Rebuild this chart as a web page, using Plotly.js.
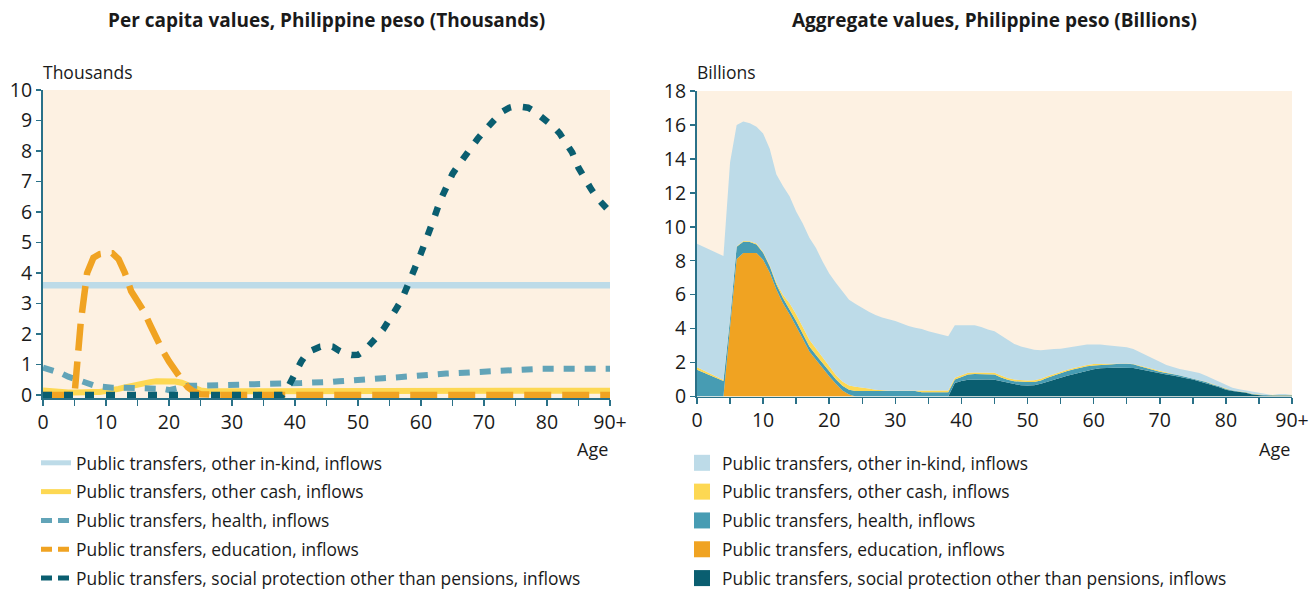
<!DOCTYPE html>
<html>
<head>
<meta charset="utf-8">
<script src="https://cdn.plot.ly/plotly-3.0.1.min.js"></script>
<style>
  html, body { margin: 0; padding: 0; background: #ffffff; }
  #chart { width: 1312px; height: 592px; }
</style>
</head>
<body>
<div id="chart"></div>
<script>
// ---------- Data (ages 0 .. 90+) ----------
const ages = [0,1,2,3,4,5,6,7,8,9,10,11,12,13,14,15,16,17,18,19,20,21,22,23,24,25,26,27,28,29,30,31,32,33,34,35,36,37,38,39,40,41,42,43,44,45,46,47,48,49,50,51,52,53,54,55,56,57,58,59,60,61,62,63,64,65,66,67,68,69,70,71,72,73,74,75,76,77,78,79,80,81,82,83,84,85,86,87,88,89,90];
const tickVals = [0,5,10,15,20,25,30,35,40,45,50,55,60,65,70,75,80,85,90];
const tickLabels = ['0','','10','','20','','30','','40','','50','','60','','70','','80','','90+'];

const seriesNames = [
  'Public transfers, other in-kind, inflows',
  'Public transfers, other cash, inflows',
  'Public transfers, health, inflows',
  'Public transfers, education, inflows',
  'Public transfers, social protection other than pensions, inflows'
];

// Per capita values (thousands of pesos)
const pcInKind = [3.6,3.6,3.6,3.6,3.6,3.6,3.6,3.6,3.6,3.6,3.6,3.6,3.6,3.6,3.6,3.6,3.6,3.6,3.6,3.6,3.6,3.6,3.6,3.6,3.6,3.6,3.6,3.6,3.6,3.6,3.6,3.6,3.6,3.6,3.6,3.6,3.6,3.6,3.6,3.6,3.6,3.6,3.6,3.6,3.6,3.6,3.6,3.6,3.6,3.6,3.6,3.6,3.6,3.6,3.6,3.6,3.6,3.6,3.6,3.6,3.6,3.6,3.6,3.6,3.6,3.6,3.6,3.6,3.6,3.6,3.6,3.6,3.6,3.6,3.6,3.6,3.6,3.6,3.6,3.6,3.6,3.6,3.6,3.6,3.6,3.6,3.6,3.6,3.6,3.6,3.6];
const pcCash = [0.15,0.12,0.1,0.08,0.08,0.08,0.1,0.1,0.1,0.1,0.12,0.15,0.2,0.25,0.3,0.35,0.4,0.42,0.45,0.45,0.45,0.44,0.4,0.3,0.2,0.15,0.12,0.12,0.12,0.12,0.12,0.12,0.12,0.12,0.12,0.12,0.12,0.12,0.12,0.12,0.13,0.13,0.13,0.13,0.13,0.13,0.13,0.13,0.13,0.13,0.13,0.13,0.13,0.13,0.13,0.13,0.14,0.14,0.14,0.14,0.14,0.14,0.14,0.14,0.14,0.14,0.14,0.14,0.14,0.14,0.14,0.14,0.14,0.14,0.14,0.14,0.14,0.14,0.14,0.14,0.14,0.14,0.14,0.14,0.14,0.14,0.14,0.14,0.14,0.14,0.14];
const pcHealth = [0.9,0.85,0.78,0.7,0.6,0.52,0.45,0.38,0.32,0.28,0.25,0.24,0.24,0.24,0.23,0.23,0.23,0.23,0.22,0.2,0.16,0.22,0.28,0.3,0.3,0.3,0.3,0.32,0.33,0.33,0.33,0.34,0.34,0.35,0.35,0.36,0.36,0.37,0.37,0.38,0.38,0.39,0.4,0.4,0.41,0.41,0.43,0.45,0.47,0.48,0.5,0.51,0.52,0.53,0.55,0.56,0.58,0.6,0.62,0.63,0.64,0.65,0.66,0.68,0.7,0.71,0.72,0.74,0.76,0.78,0.8,0.82,0.83,0.84,0.85,0.86,0.86,0.86,0.86,0.86,0.86,0.86,0.86,0.86,0.86,0.86,0.86,0.86,0.86,0.86,0.86];
const pcEducation = [0,0,0,0,0,0,2.4,4.0,4.5,4.62,4.65,4.65,4.45,4.0,3.4,3.1,2.75,2.3,1.85,1.45,1.1,0.75,0.5,0.25,0.1,0.02,0,0,0,0,0,0,0,0,0,0,0,0,0,0,0,0,0,0,0,0,0,0,0,0,0,0,0,0,0,0,0,0,0,0,0,0,0,0,0,0,0,0,0,0,0,0,0,0,0,0,0,0,0,0,0,0,0,0,0,0,0,0,0,0,0];
const pcSocial = [0,0,0,0,0,0,0,0,0,0,0,0,0,0,0,0,0,0,0,0,0,0,0,0,0,0,0,0,0,0,0,0,0,0,0,0,0,0,0,0.3,0.75,1.1,1.4,1.52,1.58,1.6,1.58,1.45,1.35,1.31,1.32,1.45,1.65,1.9,2.15,2.45,2.8,3.15,3.6,4.15,4.65,5.15,5.75,6.35,6.85,7.25,7.55,7.85,8.1,8.4,8.65,8.9,9.1,9.3,9.42,9.47,9.47,9.42,9.3,9.15,8.98,8.8,8.58,8.3,7.95,7.45,7.05,6.75,6.45,6.2,6.0];

// Aggregate values (billions of pesos)
const agInKind = [7.27,7.28,7.29,7.31,7.31,9.17,7.15,7.04,6.95,6.89,6.98,6.86,6.38,6.4,6.3,6.05,6.1,6.0,5.92,5.62,5.49,5.43,5.32,5.05,4.88,4.66,4.53,4.4,4.29,4.21,4.11,3.96,3.81,3.71,3.65,3.5,3.4,3.3,3.2,3.1,2.93,2.8,2.78,2.68,2.53,2.45,2.36,2.26,2.1,1.99,1.9,1.79,1.67,1.58,1.46,1.37,1.3,1.27,1.24,1.21,1.16,1.15,1.08,1.03,0.98,0.95,0.88,0.79,0.65,0.6,0.54,0.43,0.38,0.35,0.38,0.39,0.4,0.35,0.32,0.27,0.23,0.16,0.11,0.09,0.12,0.1,0.03,0.0,0.06,0.06,0.0];
const agCash = [0.16,0.13,0.1,0.07,0.05,0.03,0.03,0.04,0.05,0.05,0.05,0.06,0.1,0.2,0.35,0.4,0.4,0.4,0.38,0.35,0.3,0.25,0.25,0.25,0.25,0.22,0.15,0.08,0.04,0.02,0.02,0.02,0.02,0.02,0.08,0.1,0.1,0.1,0.1,0.1,0.1,0.1,0.1,0.1,0.1,0.1,0.12,0.11,0.1,0.1,0.1,0.1,0.1,0.1,0.1,0.09,0.08,0.08,0.08,0.08,0.08,0.06,0.03,0.02,0.02,0.02,0.02,0.05,0.08,0.07,0.05,0.04,0.02,0.02,0.02,0.02,0.02,0.02,0.02,0.01,0.01,0.01,0.01,0.01,0.01,0.01,0.01,0.01,0.01,0.01,0.01];
const agHealth = [1.57,1.41,1.25,1.08,0.92,0.5,0.72,0.66,0.64,0.5,0.42,0.38,0.32,0.3,0.3,0.3,0.3,0.3,0.3,0.28,0.26,0.27,0.28,0.28,0.32,0.32,0.32,0.32,0.32,0.32,0.32,0.32,0.32,0.32,0.25,0.25,0.25,0.25,0.25,0.2,0.25,0.32,0.32,0.32,0.32,0.32,0.22,0.2,0.2,0.2,0.2,0.2,0.2,0.22,0.24,0.26,0.28,0.28,0.28,0.26,0.23,0.2,0.22,0.23,0.23,0.23,0.22,0.18,0.15,0.12,0.1,0.08,0.08,0.07,0.07,0.06,0.06,0.05,0.05,0.05,0.04,0.03,0.03,0.03,0.03,0.03,0.03,0.03,0.03,0.03,0.03];
const agEducation = [0,0,0,0,0,4.1,8.1,8.46,8.46,8.46,8.05,7.3,6.3,5.5,4.85,4.15,3.4,2.65,2.15,1.7,1.2,0.75,0.35,0.12,0,0,0,0,0,0,0,0,0,0,0,0,0,0,0,0,0,0,0,0,0,0,0,0,0,0,0,0,0,0,0,0,0,0,0,0,0,0,0,0,0,0,0,0,0,0,0,0,0,0,0,0,0,0,0,0,0,0,0,0,0,0,0,0,0,0,0];
const agSocial = [0,0,0,0,0,0,0,0,0,0,0,0,0,0,0,0,0,0,0,0,0,0,0,0,0,0,0,0,0,0,0,0,0,0,0,0,0,0,0,0.8,0.92,0.98,1.0,1.0,1.0,0.98,0.9,0.78,0.7,0.66,0.65,0.66,0.75,0.88,1.0,1.1,1.22,1.32,1.42,1.52,1.6,1.66,1.69,1.7,1.7,1.7,1.68,1.6,1.52,1.43,1.36,1.3,1.24,1.18,1.08,1.0,0.9,0.8,0.66,0.55,0.4,0.32,0.27,0.22,0.12,0.08,0.05,0.05,0.05,0.05,0.05];

// ---------- Styles ----------
const C = {
  inkind: '#bddbe8',
  cash: '#fdd853',
  healthLine: '#62a4b8',
  healthArea: '#479cb3',
  edu: '#f0a322',
  social: '#0a5e70',
  bg: '#fdf1e2',
  axis: '#2a7188',
  text: '#1a1a1a'
};
const FONT = '"Open Sans", "Noto Sans", sans-serif';

const lineSpecs = [
  {y: pcInKind,    color: C.inkind,     width: 6.5, dash: 'solid',     legDash: 'solid'},
  {y: pcCash,      color: C.cash,       width: 6,   dash: 'solid',     legDash: 'solid'},
  {y: pcHealth,    color: C.healthLine, width: 6,   dash: '11px,10px', legDash: '11px,6px'},
  {y: pcEducation, color: C.edu,        width: 6.5, dash: '27px,11px', legDash: '11px,6px'},
  {y: pcSocial,    color: C.social,     width: 6.5, dash: '9px,12px',  legDash: '11px,6px'}
];

const traces = [];
lineSpecs.forEach((s) => {
  traces.push({
    type: 'scatter', mode: 'lines', x: ages, y: s.y, showlegend: false,
    line: {color: s.color, width: s.width, dash: s.dash},
    xaxis: 'x', yaxis: 'y', hoverinfo: 'skip'
  });
});
// legend entries for the per-capita panel
lineSpecs.forEach((s, i) => {
  traces.push({
    type: 'scatter', mode: 'lines', x: [null], y: [null],
    name: seriesNames[i], legend: 'legend', legendgroup: 'L' + i,
    line: {color: s.color, width: 5, dash: s.legDash},
    xaxis: 'x', yaxis: 'y', hoverinfo: 'skip'
  });
});

// stacked areas: bottom to top
const areaSpecs = [
  {y: agSocial,    color: C.social},
  {y: agEducation, color: C.edu},
  {y: agHealth,    color: C.healthArea},
  {y: agCash,      color: C.cash},
  {y: agInKind,    color: C.inkind}
];
areaSpecs.forEach((s) => {
  traces.push({
    type: 'scatter', mode: 'lines', x: ages, y: s.y,
    stackgroup: 'agg', fillcolor: s.color,
    line: {width: 0, color: s.color}, showlegend: false,
    xaxis: 'x2', yaxis: 'y2', hoverinfo: 'skip'
  });
});
// legend entries for the aggregate panel (square swatches)
const legend2Colors = [C.inkind, C.cash, C.healthArea, C.edu, C.social];
legend2Colors.forEach((col, i) => {
  traces.push({
    type: 'scatter', mode: 'markers', x: [null], y: [null],
    name: seriesNames[i], legend: 'legend2', legendgroup: 'R' + i,
    marker: {symbol: 'square', size: 16, color: col},
    xaxis: 'x2', yaxis: 'y2', hoverinfo: 'skip'
  });
});

const W = 1312, H = 592;
const px = (v) => v / W;
const py = (v) => 1 - v / H;

const xCommon = {
  range: [0, 90], tickmode: 'array', tickvals: tickVals, ticktext: tickLabels,
  ticks: 'outside', ticklen: 6, tickwidth: 1.5, tickcolor: C.axis,
  showline: true, linecolor: C.axis, linewidth: 1.5,
  showgrid: false, zeroline: false,
  tickfont: {family: FONT, size: 19.5, color: C.text}, fixedrange: true
};
const yCommon = {
  ticks: 'outside', ticklen: 5, tickwidth: 1.5, tickcolor: C.axis,
  showline: true, linecolor: C.axis, linewidth: 2,
  showgrid: false, zeroline: false,
  tickfont: {family: FONT, size: 19.5, color: C.text}, fixedrange: true
};

const legendCommon = {
  orientation: 'v', xanchor: 'left', yanchor: 'top',
  bgcolor: 'rgba(0,0,0,0)', borderwidth: 0,
  font: {family: FONT, size: 17.4, color: C.text},
  tracegroupgap: 3.2, maxheight: 400,
  itemclick: false, itemdoubleclick: false
};

const layout = {
  width: W, height: H,
  margin: {l: 0, r: 0, t: 0, b: 0, autoexpand: false},
  paper_bgcolor: '#ffffff',
  plot_bgcolor: C.bg,
  showlegend: true,
  font: {family: FONT, color: C.text},
  xaxis: Object.assign({}, xCommon, {domain: [px(43), px(610)], anchor: 'y'}),
  yaxis: Object.assign({}, yCommon, {domain: [py(398), py(90)], range: [-0.1, 10], dtick: 1, tick0: 0, anchor: 'x'}),
  xaxis2: Object.assign({}, xCommon, {domain: [px(697), px(1292)], anchor: 'y2'}),
  yaxis2: Object.assign({}, yCommon, {domain: [py(396.5), py(91)], range: [0, 18], dtick: 2, tick0: 0, anchor: 'x2'}),
  legend: Object.assign({}, legendCommon, {x: px(36), y: py(445)}),
  legend2: Object.assign({}, legendCommon, {x: px(682), y: py(445)}),
  annotations: [
    {text: '<b>Per capita values, Philippine peso (Thousands)</b>', xref: 'x domain', yref: 'paper', x: 0.5, y: py(20), xanchor: 'center', yanchor: 'middle', showarrow: false, font: {family: FONT, size: 19, color: C.text}},
    {text: '<b>Aggregate values, Philippine peso (Billions)</b>', xref: 'x2 domain', yref: 'paper', x: 0.5, y: py(20), xanchor: 'center', yanchor: 'middle', showarrow: false, font: {family: FONT, size: 19, color: C.text}},
    {text: 'Thousands', xref: 'paper', yref: 'paper', x: px(41), y: py(72), xanchor: 'left', yanchor: 'middle', showarrow: false, font: {family: FONT, size: 17.5, color: C.text}},
    {text: 'Billions', xref: 'paper', yref: 'paper', x: px(695), y: py(72), xanchor: 'left', yanchor: 'middle', showarrow: false, font: {family: FONT, size: 17.5, color: C.text}},
    {text: 'Age', xref: 'x domain', yref: 'paper', x: 1, y: py(449), xanchor: 'right', yanchor: 'middle', showarrow: false, font: {family: FONT, size: 18, color: C.text}},
    {text: 'Age', xref: 'x2 domain', yref: 'paper', x: 1, y: py(449), xanchor: 'right', yanchor: 'middle', showarrow: false, font: {family: FONT, size: 18, color: C.text}}
  ]
};

Plotly.newPlot('chart', traces, layout, {displayModeBar: false, staticPlot: true});
</script>
</body>
</html>
